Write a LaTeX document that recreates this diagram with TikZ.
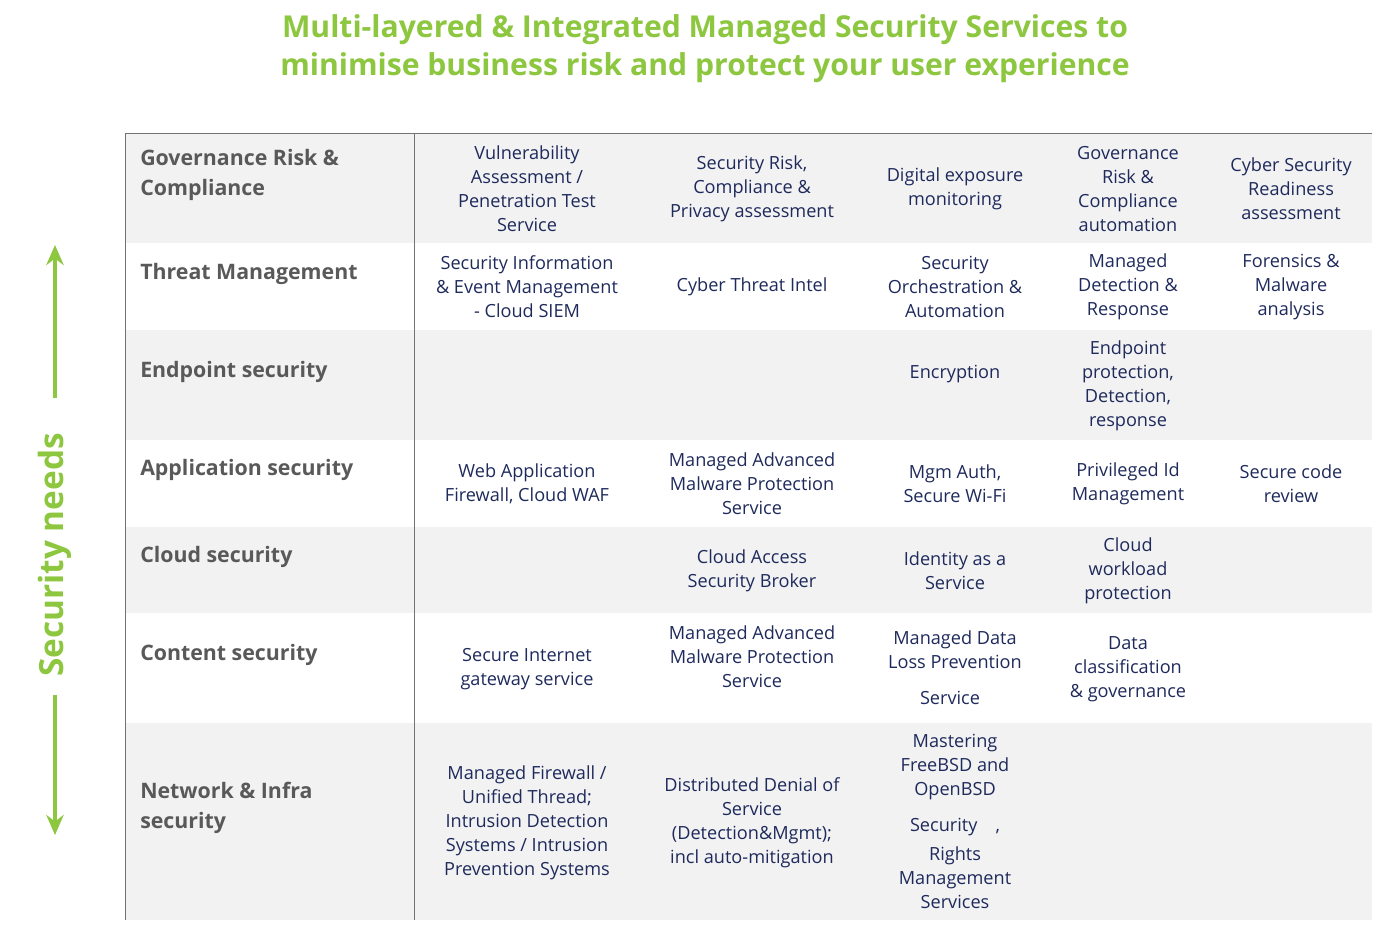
\documentclass[tikz,border=0pt]{standalone}
\usepackage{fontspec}
\usetikzlibrary{arrows.meta}
\setmainfont{Open Sans}
\definecolor{gr}{HTML}{8DC63F}
\definecolor{bgg}{HTML}{F2F2F2}
\definecolor{lab}{HTML}{595959}
\definecolor{navy}{HTML}{1F2A5C}
\begin{document}
\begin{tikzpicture}[x=0.75pt,y=-0.75pt,
 cell/.style={align=center,text=navy,font=\fontsize{13.6}{18}\selectfont,inner sep=0pt},
 rlab/.style={anchor=west,align=left,text=lab,font=\bfseries\fontsize{16}{22}\selectfont,inner sep=0pt},
 band/.style={fill=bgg,draw=none}]
\useasboundingbox (0,0) rectangle (1396,949);
\fill[band] (125,133) rectangle (1372,243);
\fill[band] (125,330) rectangle (1372,440);
\fill[band] (125,527) rectangle (1372,613);
\fill[band] (125,723) rectangle (1372,920);
\draw[gray!90!black,line width=0.6pt] (125,920) -- (125,133) -- (1372,133);
\draw[gray!90!black,line width=0.6pt] (414,133) -- (414,920);
\node[text=gr,align=center,font=\bfseries\fontsize{22.6}{28.5}\selectfont] (title) at (705,49) {Multi-layered \& Integrated Managed Security Services to\\minimise business risk and protect your user experience};
% left arrow
\node[rotate=90,text=gr,font=\bfseries\fontsize{25}{28}\selectfont] (sn) at (55,555) {Security needs};
\coordinate (atop) at (55,245); \coordinate (abot) at (55,835);
\draw[gr,line width=3pt,-{Stealth[length=15pt,width=13pt]}] (55,398) -- (atop);
\draw[gr,line width=3pt,-{Stealth[length=15pt,width=13pt]}] (55,695) -- (abot);
% row labels
\node[rlab] (l1) at (140,175) {Governance Risk \&\\Compliance};
\node[rlab] (l2) at (140,274) {Threat Management};
\node[rlab] (l3) at (140,372) {Endpoint security};
\node[rlab] (l4) at (140,470) {Application security};
\node[rlab] (l5) at (140,557) {Cloud security};
\node[rlab] (l6) at (140,655) {Content security};
\node[rlab] (l7) at (140,808) {Network \& Infra\\security};
% row 1
\node[cell] (c11) at (527,189) {Vulnerability\\Assessment /\\Penetration Test\\Service};
\node[cell] (c12) at (752,189) {Security Risk,\\Compliance \&\\Privacy assessment};
\node[cell] (c13) at (955,189) {Digital exposure\\monitoring};
\node[cell] (c14) at (1128,189) {Governance\\Risk \&\\Compliance\\automation};
\node[cell] (c15) at (1291,189) {Cyber Security\\Readiness\\assessment};
% row 2
\node[cell] (c21) at (527,287) {Security Information\\\& Event Management\\- Cloud SIEM};
\node[cell] (c22) at (752,287) {Cyber Threat Intel};
\node[cell] (c23) at (955,287) {Security\\Orchestration \&\\Automation};
\node[cell] (c24) at (1128,287) {Managed\\Detection \&\\Response};
\node[cell] (c25) at (1291,287) {Forensics \&\\Malware\\analysis};
% row 3
\node[cell] (c33) at (955,374) {Encryption};
\node[cell] (c34) at (1128,386) {Endpoint\\protection,\\Detection,\\response};
% row 4
\node[cell] (c41) at (527,484) {Web Application\\Firewall, Cloud WAF};
\node[cell] (c42) at (752,484) {Managed Advanced\\Malware Protection\\Service};
\node[cell] (c43) at (955,484) {Mgm Auth,\\Secure Wi-Fi};
\node[cell] (c44) at (1128,484) {Privileged Id\\Management};
\node[cell] (c45) at (1291,484) {Secure code\\review};
% row 5
\node[cell] (c52) at (752,571) {Cloud Access\\Security Broker};
\node[cell] (c53) at (955,571) {Identity as a\\Service};
\node[cell] (c54) at (1128,571) {Cloud\\workload\\protection};
% row 6
\node[cell] (c61) at (527,669) {Secure Internet\\gateway service};
\node[cell] (c62) at (752,657) {Managed Advanced\\Malware Protection\\Service};
\node[cell] (c63) at (955,650) {Managed Data\\Loss Prevention};
\node[cell] (c63b) at (950,698) {Service};
\node[cell] (c64) at (1128,669) {Data\\classification\\\& governance};
% row 7
\node[cell] (c71) at (527,823) {Managed Firewall /\\Unified Thread;\\Intrusion Detection\\Systems / Intrusion\\Prevention Systems};
\node[cell] (c72) at (752,823) {Distributed Denial of\\Service\\(Detection\&Mgmt);\\incl auto-mitigation};
\node[cell] (c73) at (955,767) {Mastering\\FreeBSD and\\OpenBSD};
\node[cell] (c73b) at (955,827) {Security\quad,};
\node[cell] (c73c) at (955,878) {Rights\\Management\\Services};
\end{tikzpicture}
\end{document}
